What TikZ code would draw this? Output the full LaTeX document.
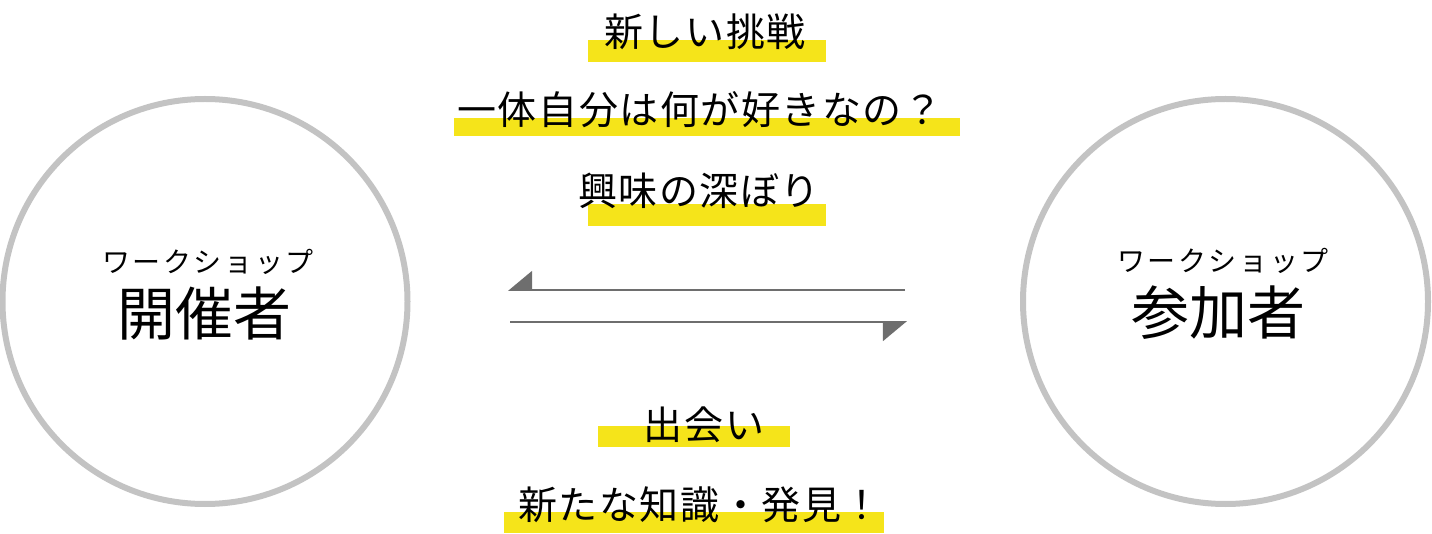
\documentclass[tikz,border=0pt]{standalone}
\usepackage{fontspec}
\usetikzlibrary{arrows.meta}
\newfontfamily\jpbig{Noto Sans CJK JP}
\newfontfamily\jpsp[LetterSpace=4]{Noto Sans CJK JP}
\newfontfamily\jpkana[LetterSpace=9]{Noto Sans CJK JP}
\definecolor{hlc}{RGB}{245,228,26}
\definecolor{ringc}{RGB}{195,195,195}
\definecolor{arrc}{RGB}{110,110,110}
\tikzset{
  ringnode/.style={circle, draw=ringc, line width=6pt, minimum size=405pt, inner sep=0pt},
  barnode/.style={fill=hlc, inner sep=0pt, rectangle},
  phrase/.style={inner sep=0pt, text=black, font={\jpsp\fontsize{39}{43}\selectfont}},
  kana/.style={inner sep=0pt, text=black, font={\jpkana\fontsize{28}{32}\selectfont}},
  role/.style={inner sep=0pt, text=black, font={\jpbig\fontsize{58}{62}\selectfont}},
  conn/.style={draw=arrc, line width=1.8pt, -{Triangle[harpoon,swap,length=23pt,width=38pt]}}
}
\begin{document}
\begin{tikzpicture}[x=1pt,y=-1pt]
\useasboundingbox (0,0) rectangle (1432,534);
% circles
\node[ringnode] (host) at (205,301.5) {};
\node[ringnode] (guest) at (1225.5,301.5) {};
% highlight bars
\node[barnode, minimum width=238pt, minimum height=22pt] (b1) at (707,51) {};
\node[barnode, minimum width=506pt, minimum height=18pt] (b2) at (707,127) {};
\node[barnode, minimum width=238pt, minimum height=22pt] (b3) at (707,215) {};
\node[barnode, minimum width=192pt, minimum height=21pt] (b4) at (694,436.5) {};
\node[barnode, minimum width=380pt, minimum height=21pt] (b5) at (694,522.5) {};
% phrases
\node[phrase] (p1) at (705,31.5) {新しい挑戦};
\node[phrase] (p2) at (700,109.5) {一体自分は何が好きなの？};
\node[phrase] (p3) at (699,190.5) {興味の深ぼり};
\node[phrase] (p4) at (704,424.5) {出会い};
\node[phrase] (p5) at (700,504.5) {新たな知識・発見！};
% circle labels
\node[kana] (hk) at (208,262) {ワークショップ};
\node[role] (hr) at (204,313) {開催者};
\node[kana] (gk) at (1223,261) {ワークショップ};
\node[role] (gr) at (1218,313) {参加者};
% arrows
\coordinate (a1s) at (905,290);
\coordinate (a1e) at (508,290);
\coordinate (a2s) at (510,322);
\coordinate (a2e) at (907,322);
\draw[conn] (a1s) -- (a1e);
\draw[conn] (a2s) -- (a2e);
\end{tikzpicture}
\end{document}
